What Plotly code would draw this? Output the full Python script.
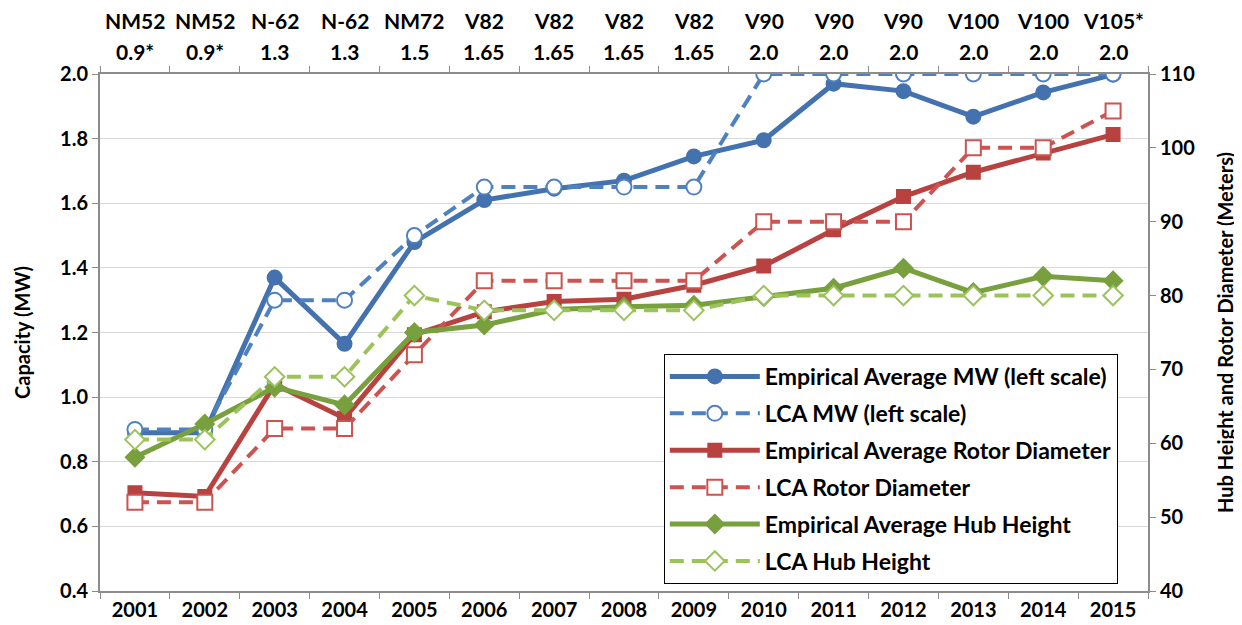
import plotly.graph_objects as go

years = ["2001", "2002", "2003", "2004", "2005", "2006", "2007", "2008",
         "2009", "2010", "2011", "2012", "2013", "2014", "2015"]
models = ["NM52", "NM52", "N-62", "N-62", "NM72", "V82", "V82", "V82",
          "V82", "V90", "V90", "V90", "V100", "V100", "V105*"]
model_mw = ["0.9*", "0.9*", "1.3", "1.3", "1.5", "1.65", "1.65", "1.65",
            "1.65", "2.0", "2.0", "2.0", "2.0", "2.0", "2.0"]

mw_emp = [0.89, 0.89, 1.37, 1.165, 1.48, 1.61, 1.645, 1.67, 1.745, 1.795,
          1.97, 1.947, 1.868, 1.943, 1.998]
mw_lca = [0.9, 0.9, 1.3, 1.3, 1.5, 1.65, 1.65, 1.65, 1.65, 2.0,
          2.0, 2.0, 2.0, 2.0, 2.0]
rotor_emp = [53.3, 52.8, 68.0, 63.4, 74.7, 77.8, 79.2, 79.5, 81.4, 84.0,
             88.9, 93.4, 96.7, 99.3, 101.8]
rotor_lca = [52, 52, 62, 62, 72, 82, 82, 82, 82, 90, 90, 90, 100, 100, 105]
hub_emp = [58.1, 62.6, 67.6, 65.2, 75.0, 76.0, 78.1, 78.5, 78.7, 79.85,
           81.0, 83.7, 80.4, 82.6, 82.0]
hub_lca = [60.5, 60.5, 69, 69, 80, 78, 78, 78, 78, 80, 80, 80, 80, 80, 80]

FONT = "Lato"
BOLD = 700
BLUE, BLUE_L = "#4472AE", "#4F81C1"
RED, RED_L = "#B8423F", "#CC5350"
GREEN, GREEN_L = "#78A03E", "#9BC35A"
DASH = "14px,8px"

fig = go.Figure()


def add(name, y, color, dash, symbol, size, yaxis, fill, group):
    fig.add_trace(go.Scatter(
        x=years, y=y, name=name, mode="lines+markers", yaxis=yaxis,
        legendgroup=group,
        line=dict(color=color, width=5 if dash == "solid" else 4, dash=dash),
        marker=dict(symbol=symbol, size=size,
                    color=fill if fill else color,
                    line=dict(color=color, width=2)),
    ))


add("Empirical Average MW (left scale)", mw_emp, BLUE, "solid", "circle", 14, "y", None, "a")
add("LCA MW (left scale)", mw_lca, BLUE_L, DASH, "circle", 15, "y", "white", "b")
add("Empirical Average Rotor Diameter", rotor_emp, RED, "solid", "square", 13, "y2", None, "c")
add("LCA Rotor Diameter", rotor_lca, RED_L, DASH, "square", 15, "y2", "white", "d")
add("Empirical Average Hub Height", hub_emp, GREEN, "solid", "diamond", 14, "y2", None, "e")
add("LCA Hub Height", hub_lca, GREEN_L, DASH, "diamond", 15, "y2", "white", "f")

# figure is drawn 8px in from the page corner, so size it 8px smaller
W, H = 1234, 617
PLOT_H = 517

# top labels (turbine model and rating), placed by category index
for i, (m, v) in enumerate(zip(models, model_mw)):
    fig.add_annotation(x=i, y=1 + (66 - 12) / PLOT_H, xref="x", yref="paper", text=m,
                       showarrow=False, yanchor="middle",
                       font=dict(size=21, color="black", family=FONT, weight=BOLD))
    fig.add_annotation(x=i, y=1 + (66 - 44) / PLOT_H, xref="x", yref="paper", text=v,
                       showarrow=False, yanchor="middle",
                       font=dict(size=21, color="black", family=FONT, weight=BOLD))

AX = "#8C8C8C"
TF = dict(size=20, family=FONT, color="black", weight=BOLD)
fig.update_layout(
    width=W, height=H,
    margin=dict(l=92, r=94, t=66, b=34, autoexpand=False),
    paper_bgcolor="white", plot_bgcolor="white",
    font=dict(family=FONT, size=20, color="black", weight=BOLD),
    xaxis=dict(type="category", categoryarray=years, tickson="boundaries",
               ticks="outside", ticklen=6, tickcolor=AX, showline=True,
               linecolor=AX, linewidth=2, mirror="ticks", showgrid=False,
               range=[-0.5, 14.5], tickfont=TF, automargin=False),
    yaxis=dict(range=[0.4, 2.0], dtick=0.2, tickformat=".1f", showgrid=True,
               gridcolor="#D9D9D9", gridwidth=1, zeroline=False,
               showline=True, linecolor=AX, linewidth=2, ticks="outside",
               ticklen=6, tickcolor=AX, tickfont=TF, automargin=False,
               title=dict(text="Capacity (MW)", standoff=24, font=TF)),
    yaxis2=dict(range=[40, 110], dtick=10, overlaying="y", side="right",
                showgrid=False, zeroline=False, showline=True, linecolor=AX,
                linewidth=2, ticks="outside", ticklen=6, tickcolor=AX,
                tickfont=TF, automargin=False,
                title=dict(text="Hub Height and Rotor Diameter (Meters)",
                           standoff=25, font=TF)),
    legend=dict(x=0.538, y=0.4584, xanchor="left", yanchor="top",
                bgcolor="white", bordercolor="black", borderwidth=1,
                font=dict(size=23, family=FONT, weight=BOLD, color="black"),
                itemwidth=90, tracegroupgap=4, traceorder="grouped"),
    showlegend=True,
)

fig.write_html("out.html")
